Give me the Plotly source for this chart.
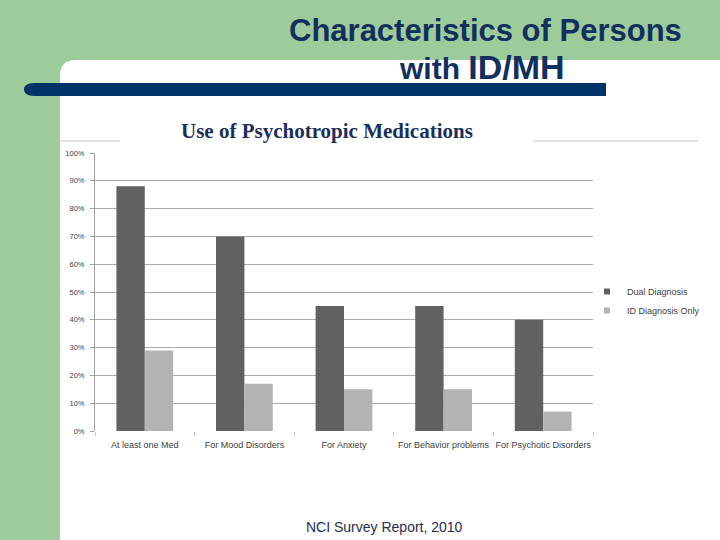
import plotly.graph_objects as go

categories = ["At least one Med", "For Mood Disorders", "For Anxiety",
              "For Behavior problems", "For Psychotic Disorders"]
dual_diagnosis = [0.88, 0.70, 0.45, 0.45, 0.40]
id_only = [0.29, 0.17, 0.15, 0.15, 0.07]
series_names = ["Dual Diagnosis", "ID Diagnosis Only"]
series_colors = ["#616161", "#B3B3B3"]
y_ticks = [0, 0.1, 0.2, 0.3, 0.4, 0.5, 0.6, 0.7, 0.8, 0.9, 1.0]
y_tick_labels = ["0%", "10%", "20%", "30%", "40%", "50%", "60%", "70%", "80%", "90%", "100%"]

W, H = 720, 540
def px(x):
    return x / W
def py(y):
    return 1 - y / H

GREEN = "#9DCB9A"
NAVY = "#003366"
TITLE_COLOR = "#12305E"

fig = go.Figure()
for name, vals, col in zip(series_names, [dual_diagnosis, id_only], series_colors):
    fig.add_trace(go.Bar(x=categories, y=vals, name=name, showlegend=False,
                         marker=dict(color=col, line=dict(width=0))))
# legend entries with small square markers
for name, col in zip(series_names, series_colors):
    fig.add_trace(go.Scatter(x=[None], y=[None], mode="markers", name=name,
                             marker=dict(symbol="square", size=6, color=col)))

shapes = []
# white slide area with rounded top-left corner
r = 16
x0, y0 = 60, 60
path = (f"M {px(x0)},{py(y0 + r)} Q {px(x0)},{py(y0)} {px(x0 + r)},{py(y0)} "
        f"L {px(720)},{py(y0)} L {px(720)},{py(540)} L {px(x0)},{py(540)} Z")
shapes.append(dict(type="path", xref="paper", yref="paper", path=path,
                   fillcolor="white", line=dict(width=0), layer="below"))
# navy bar with rounded left end
bx0, bx1, by0, by1 = 24, 606, 83, 96
bpath = (f"M {px(bx0 + 10)},{py(by0)} L {px(bx1)},{py(by0)} L {px(bx1)},{py(by1)} "
         f"L {px(bx0 + 10)},{py(by1)} Q {px(bx0)},{py(by1)} {px(bx0)},{py((by0 + by1) / 2)} "
         f"Q {px(bx0)},{py(by0)} {px(bx0 + 10)},{py(by0)} Z")
shapes.append(dict(type="path", xref="paper", yref="paper", path=bpath,
                   fillcolor=NAVY, line=dict(width=0), layer="above"))
# thin grey lines of the chart frame
for a, b in [(58, 120), (533, 698)]:
    shapes.append(dict(type="line", xref="paper", yref="paper",
                       x0=px(a), x1=px(b), y0=py(141), y1=py(141),
                       line=dict(color="#C8C8C8", width=1), layer="below"))

annotations = [
    dict(text="<b>Characteristics of Persons</b>", x=px(684), y=py(30), xref="paper", yref="paper",
         xanchor="right", yanchor="middle", showarrow=False,
         font=dict(family="Liberation Sans, Arial", size=31, color=TITLE_COLOR)),
    dict(text="<b>with <span style='font-size:34px'>ID/MH</span></b>", x=px(482), y=py(67),
         xref="paper", yref="paper",
         xanchor="center", yanchor="middle", showarrow=False,
         font=dict(family="Liberation Sans, Arial", size=30, color=TITLE_COLOR)),
    dict(text="<b>Use of Psychotropic Medications</b>", x=px(327), y=py(131), xref="paper", yref="paper",
         xanchor="center", yanchor="middle", showarrow=False,
         font=dict(family="Liberation Serif, Times New Roman", size=21, color="#1A2F5A")),
    dict(text="NCI Survey Report, 2010", x=px(384), y=py(527), xref="paper", yref="paper",
         xanchor="center", yanchor="middle", showarrow=False,
         font=dict(family="Liberation Sans, Arial", size=14, color="#1F2D50")),
]

fig.update_layout(
    width=W, height=H,
    margin=dict(l=0, r=0, t=0, b=0, autoexpand=False),
    paper_bgcolor=GREEN,
    plot_bgcolor="rgba(0,0,0,0)",
    barmode="group",
    bargap=0.43,
    bargroupgap=0,
    shapes=shapes,
    annotations=annotations,
    showlegend=True,
    legend=dict(x=px(587), y=py(277), xanchor="left", yanchor="top",
                bgcolor="rgba(0,0,0,0)",
                font=dict(family="Liberation Sans, Arial", size=9, color="#404040"),
                itemwidth=30, tracegroupgap=0),
    xaxis=dict(domain=[px(95), px(593)], showline=False, ticks="outside",
               tickson="boundaries", ticklen=4, tickcolor="#C8C8C8", tickangle=0,
               automargin=False, ticklabelstandoff=7,
               tickfont=dict(family="Liberation Sans, Arial", size=9, color="#404040")),
    yaxis=dict(domain=[py(431), py(153)], range=[0, 1.0], tickvals=y_ticks,
               ticktext=y_tick_labels, showgrid=True, gridcolor="#ABABAB", gridwidth=1,
               showline=True, linecolor="#A0A0A0", linewidth=1, ticks="outside",
               ticklen=4, tickcolor="#A0A0A0", zeroline=False, automargin=False,
               ticklabelstandoff=4,
               tickfont=dict(family="Liberation Sans, Arial", size=7.5, color="#404040")),
)

fig.write_html("out.html", config={"displayModeBar": False},
               post_script="document.body.style.margin='0px';document.body.style.padding='0px';")
